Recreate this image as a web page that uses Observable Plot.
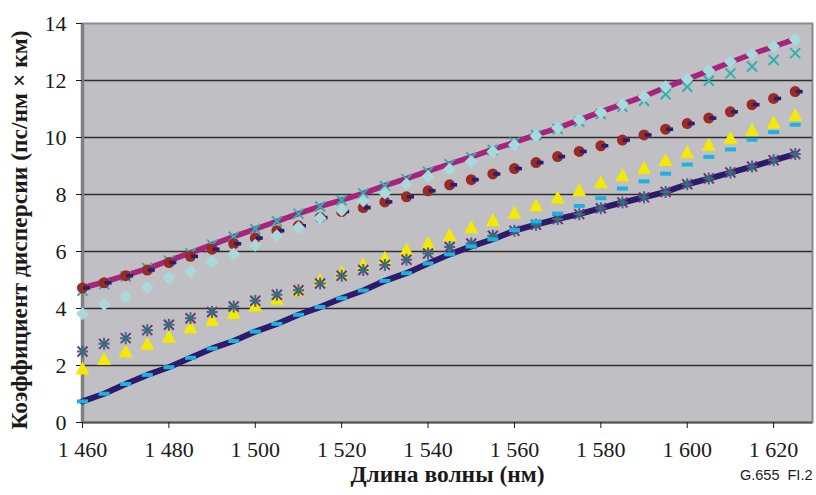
<!DOCTYPE html>
<html>
<head>
<meta charset="utf-8">
<script src="https://cdn.jsdelivr.net/npm/d3@7"></script>
<script src="https://cdn.jsdelivr.net/npm/@observablehq/plot@0.6"></script>
<style>
  html, body { margin: 0; padding: 0; background: #ffffff; }
  #chart svg { display: block; }
</style>
</head>
<body>
<div id="chart"></div>
<script>
// ---- data ----
const wavelengths = [1460,1465,1470,1475,1480,1485,1490,1495,1500,1505,1510,1515,1520,1525,1530,1535,1540,1545,1550,1555,1560,1565,1570,1575,1580,1585,1590,1595,1600,1605,1610,1615,1620,1625];

// upper envelope line (magenta)
const upperLine = [4.72,4.93,5.16,5.40,5.68,5.95,6.24,6.52,6.79,7.06,7.33,7.58,7.80,8.04,8.31,8.56,8.82,9.07,9.32,9.58,9.83,10.09,10.33,10.62,10.90,11.17,11.44,11.76,12.05,12.34,12.64,12.93,13.19,13.45];
// teal crosses
const crosses = [4.62,4.85,5.12,5.42,5.68,5.94,6.24,6.52,6.79,7.06,7.33,7.58,7.80,8.04,8.30,8.54,8.80,9.06,9.30,9.56,9.82,10.08,10.30,10.55,10.82,11.08,11.29,11.52,11.78,11.99,12.25,12.49,12.72,12.96];
// light cyan diamonds
const diamonds = [3.82,4.15,4.41,4.74,5.07,5.30,5.65,5.91,6.22,6.55,6.84,7.17,7.45,7.78,8.05,8.36,8.63,8.89,9.16,9.50,9.74,10.06,10.33,10.62,10.88,11.17,11.44,11.78,12.05,12.34,12.66,12.93,13.19,13.45];
// dark red circles (with navy dash markers at the same values)
const circles = [4.72,4.90,5.15,5.35,5.61,5.83,6.08,6.27,6.47,6.73,6.90,7.19,7.40,7.54,7.74,7.92,8.13,8.34,8.52,8.72,8.91,9.12,9.33,9.51,9.71,9.91,10.09,10.29,10.49,10.68,10.90,11.15,11.37,11.61];
// yellow triangles
const triangles = [1.91,2.25,2.51,2.78,3.03,3.36,3.62,3.86,4.12,4.36,4.66,5.02,5.29,5.56,5.80,6.08,6.32,6.59,6.87,7.11,7.38,7.64,7.91,8.17,8.45,8.69,8.96,9.23,9.50,9.76,10.01,10.28,10.54,10.81];
// asterisks (purple x + teal +)
const asterisks = [2.49,2.76,2.96,3.24,3.43,3.66,3.88,4.07,4.27,4.48,4.64,4.88,5.15,5.35,5.53,5.71,5.93,6.16,6.28,6.55,6.73,6.94,7.14,7.31,7.52,7.72,7.90,8.09,8.36,8.56,8.77,8.98,9.20,9.42];
// light blue dashes
const dashes = [0.74,1.01,1.35,1.67,1.94,2.27,2.60,2.86,3.19,3.46,3.78,4.05,4.36,4.63,4.97,5.24,5.58,5.90,6.18,6.43,6.75,7.05,7.33,7.60,7.87,8.21,8.46,8.73,9.05,9.32,9.58,9.92,10.19,10.45];
// lower envelope line (navy)
const lowerLine = [0.74,1.01,1.35,1.67,1.94,2.27,2.60,2.86,3.19,3.46,3.78,4.05,4.36,4.63,4.97,5.24,5.58,5.90,6.18,6.43,6.73,6.94,7.14,7.31,7.52,7.72,7.90,8.09,8.36,8.56,8.77,8.98,9.20,9.42];

const xTicks = [1460,1480,1500,1520,1540,1560,1580,1600,1620];
const yTicks = [0,2,4,6,8,10,12,14];
const xDomain = [1460, 1629];
const yDomain = [0, 14];

const xLabel = "Длина волны (нм)";
const yLabel = "Коэффициент дисперсии (пс/нм × км)";
const note = "G.655\u00a0 FI.2";

// ---- table ----
const rows = wavelengths.map((w, i) => ({
  w,
  upper: upperLine[i], cross: crosses[i], diamond: diamonds[i], circle: circles[i],
  triangle: triangles[i], aster: asterisks[i], dash: dashes[i], lower: lowerLine[i]
}));

// ---- custom marker shapes ----
const shape = fn => ({ draw(ctx) { fn(ctx); } });
const symDiamond = shape(c => { c.moveTo(0,-6.5); c.lineTo(6.5,0); c.lineTo(0,6.5); c.lineTo(-6.5,0); c.closePath(); });
const symTriangle = shape(c => { c.moveTo(0,-6.5); c.lineTo(7,6.5); c.lineTo(-7,6.5); c.closePath(); });
const symDash = shape(c => { c.rect(-5.5,-2,11,4); });
const symSmallDash = shape(c => { c.rect(-3.5,-1.8,7,3.6); });
const symTimes = shape(c => { c.moveTo(-5,-5); c.lineTo(5,5); c.moveTo(5,-5); c.lineTo(-5,5); });
const symPlus = shape(c => { c.moveTo(-5.5,0); c.lineTo(5.5,0); c.moveTo(0,-6); c.lineTo(0,6); });
const symCircle = shape(c => { c.moveTo(5.5,0); c.arc(0,0,5.5,0,2*Math.PI); c.closePath(); });

const fmt = d3.formatLocale({decimal: ",", thousands: " ", grouping: [3]}).format(",");

const chart = Plot.plot({
  width: 816,
  height: 495,
  marginLeft: 82,
  marginRight: 4,
  marginTop: 23,
  marginBottom: 73,
  style: { fontFamily: "'Liberation Serif', 'Times New Roman', serif", background: "transparent", color: "#1a1a1a" },
  x: { domain: xDomain },
  y: { domain: yDomain },
  marks: [
    Plot.frame({ fill: "#c0c0c4", stroke: "#8a8a8e", strokeWidth: 2 }),
    Plot.ruleY(yTicks.filter(t => t > 0 && t < 14), { stroke: "#2e2e2e", strokeWidth: 1.3 }),
    Plot.ruleY([yTicks[0]], { stroke: "#555", strokeWidth: 2 }),
    Plot.ruleX([xDomain[0]], { stroke: "#808084", strokeWidth: 3.5 }),
    Plot.axisY({ ticks: yTicks, tickSize: 6, tickPadding: 10, fontSize: 22, label: null, tickFormat: d => String(d), fontFamily: "'Liberation Serif', serif" }),
    Plot.axisX({ ticks: xTicks, tickSize: 6, tickPadding: 13, fontSize: 22, label: null, tickFormat: fmt, fontFamily: "'Liberation Serif', serif" }),

    // lines
    Plot.line(rows, { x: "w", y: "upper", stroke: "#a8237e", strokeWidth: 5.5, strokeLinejoin: "round" }),
    Plot.line(rows, { x: "w", y: "lower", stroke: "#2a1b6c", strokeWidth: 6, strokeLinejoin: "round" }),

    // upper markers
    Plot.dot(rows, { x: "w", y: "cross", symbol: symTimes, fill: "none", stroke: "#2fb1b1", strokeWidth: 2 }),
    Plot.dot(rows, { x: "w", y: "circle", symbol: symCircle, fill: "#9b2a22", stroke: "none" }),
    Plot.dot(rows, { x: "w", y: "circle", symbol: symSmallDash, fill: "#2b1e72", stroke: "none", dx: 4 }),
    Plot.dot(rows, { x: "w", y: "diamond", symbol: symDiamond, fill: "#a9d9da", stroke: "none" }),

    // lower markers
    Plot.dot(rows, { x: "w", y: "triangle", symbol: symTriangle, fill: "#f3ea00", stroke: "none" }),
    Plot.dot(rows, { x: "w", y: "aster", symbol: symTimes, fill: "none", stroke: "#8c2a82", strokeWidth: 2 }),
    Plot.dot(rows, { x: "w", y: "aster", symbol: symPlus, fill: "none", stroke: "#17807b", strokeWidth: 2 }),
    Plot.dot(rows, { x: "w", y: "dash", symbol: symDash, fill: "#1fb0e2", stroke: "none" }),

    // titles
    Plot.text([xLabel], { frameAnchor: "bottom", textAnchor: "middle", dy: 59, fontSize: 23.5, fontWeight: "bold", fill: "#1a1a1a" }),
    Plot.text([yLabel], { frameAnchor: "left", textAnchor: "middle", rotate: -90, dx: -63, dy: 7, fontSize: 23.5, fontWeight: "bold", fill: "#1a1a1a" }),
    Plot.text([note], { frameAnchor: "bottom-right", textAnchor: "end", dy: 57, fontSize: 14.5, fontFamily: "'Liberation Sans', Arial, sans-serif", fill: "#1a1a1a" })
  ]
});

document.getElementById("chart").appendChild(chart);
</script>
</body>
</html>
